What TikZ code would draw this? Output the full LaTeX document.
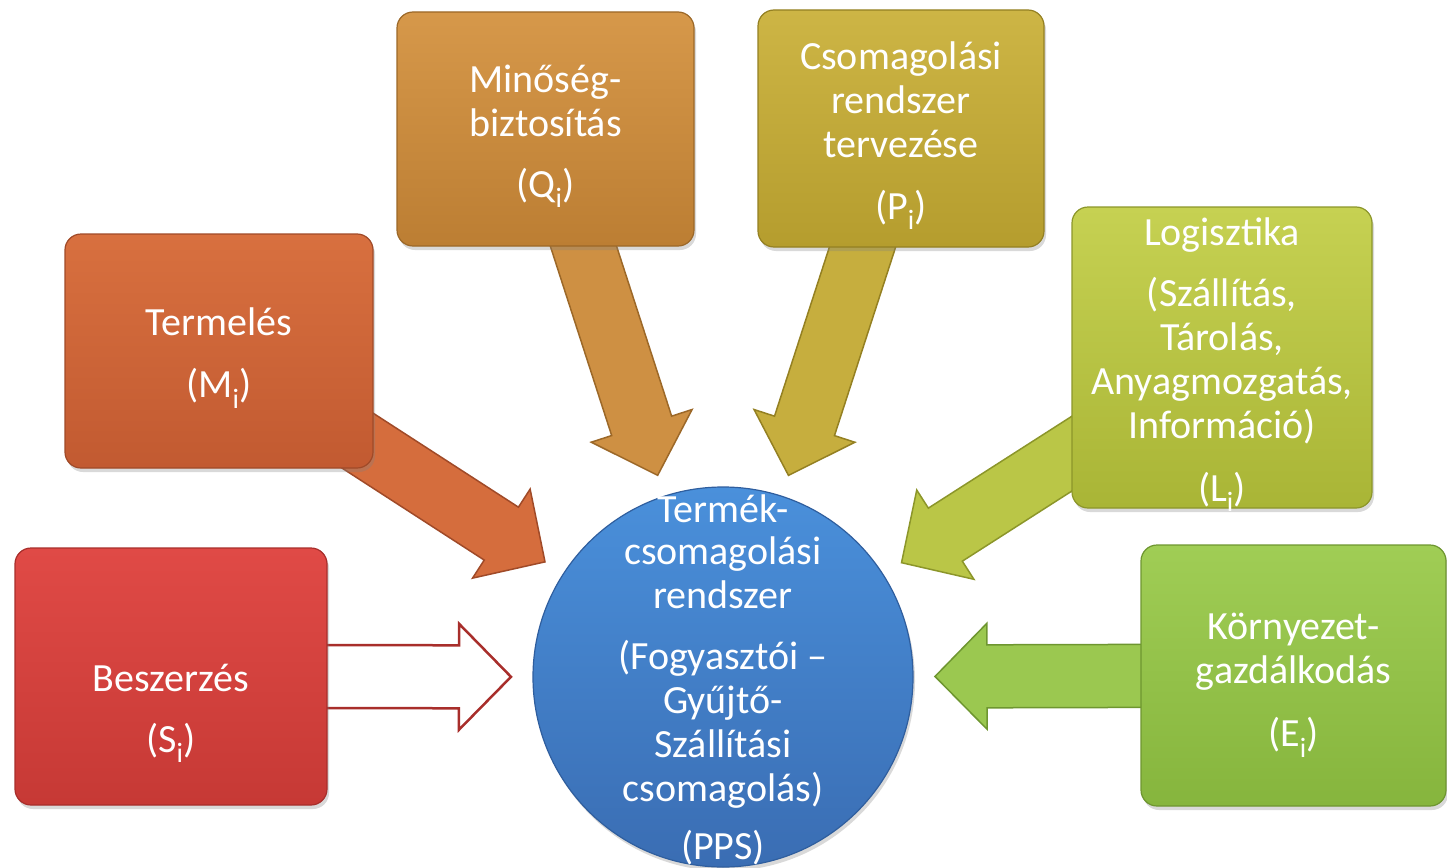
\documentclass[tikz,border=0pt]{standalone}
\usepackage{fontspec}
\setmainfont{Carlito}
\usetikzlibrary{calc,shadows,backgrounds}

\definecolor{besztop}{HTML}{E04A46}\definecolor{beszbot}{HTML}{C63935}\definecolor{beszline}{HTML}{A82E2B}
\definecolor{termtop}{HTML}{D8703F}\definecolor{termbot}{HTML}{C25A31}\definecolor{termline}{HTML}{A04A28}
\definecolor{mintop}{HTML}{D6984A}\definecolor{minbot}{HTML}{BC7E33}\definecolor{minline}{HTML}{9C6828}
\definecolor{csotop}{HTML}{CDB545}\definecolor{csobot}{HTML}{B59D2E}\definecolor{csoline}{HTML}{948022}
\definecolor{logtop}{HTML}{C6D152}\definecolor{logbot}{HTML}{A9B536}\definecolor{logline}{HTML}{8C962A}
\definecolor{kortop}{HTML}{A0CD55}\definecolor{korbot}{HTML}{86B53D}\definecolor{korline}{HTML}{6E9630}
\definecolor{ppstop}{HTML}{4A90DB}\definecolor{ppsbot}{HTML}{3A6DB3}\definecolor{ppsline}{HTML}{2F5E9E}

% block arrow from a box centre towards the hub, tip kept off the circle
\newcommand{\blockarrow}[3][]{%
  \coordinate (#2tip) at ($(#3)!212pt!(#2)$);
  \coordinate (#2neck) at ($(#2tip)!52pt!(#2)$);
  \filldraw[#1] ($(#2)!31.5pt!90:(#2tip)$)
    -- ($(#2neck)!31.5pt!-90:(#2)$)
    -- ($(#2neck)!53pt!-90:(#2)$)
    -- (#2tip)
    -- ($(#2neck)!53pt!90:(#2)$)
    -- ($(#2neck)!31.5pt!90:(#2)$)
    -- ($(#2)!31.5pt!-90:(#2tip)$) -- cycle;}
% taller first line, pushes a box text down a little
\newcommand{\toprule}[1]{\rule{0pt}{#1}}

\begin{document}
\begin{tikzpicture}[x=1pt,y=-1pt,
  box/.style={rectangle, rounded corners=16pt, inner sep=0pt, align=center,
    text=white, line width=1.2pt, font=\fontsize{40}{44}\selectfont,
    drop shadow={opacity=0.3, shadow xshift=2pt, shadow yshift=-4pt}},
  hub/.style={circle, inner sep=0pt, minimum size=380pt, line width=1.2pt,
    draw=ppsline, top color=ppstop, bottom color=ppsbot,
    drop shadow={opacity=0.3, shadow xshift=2pt, shadow yshift=-4pt}},
  hubtext/.style={align=center, text=white, font=\fontsize{40}{44}\selectfont},
  flow/.style={line width=1.5pt, line join=miter}]
\useasboundingbox (0,0) rectangle (1447,867);

% the hub
\node[hub] (pps) at (723,677) {};
\node[hubtext] (ppstext) at (723,680) {Termék-\\[-2pt]csomagolási\\rendszer\\[17pt](Fogyasztói --\\Gyűjtő-\\Szállítási\\csomagolás)\\[14pt](PPS)};

% the six areas
\node[box, draw=beszline, top color=besztop, bottom color=beszbot,
  minimum width=312pt, minimum height=257pt] (besz) at (171,676.5)
  {\toprule{40pt}\\[17pt]Beszerzés\\[17pt](S\textsubscript{i})};
\node[box, draw=termline, top color=termtop, bottom color=termbot,
  minimum width=308pt, minimum height=234pt] (termel) at (219,351)
  {\toprule{42pt}Termelés\\[18pt](M\textsubscript{i})};
\node[box, draw=minline, top color=mintop, bottom color=minbot,
  minimum width=297pt, minimum height=234pt] (minoseg) at (545.5,129)
  {\toprule{42pt}Minőség-\\biztosítás\\[17pt](Q\textsubscript{i})};
\node[box, draw=csoline, top color=csotop, bottom color=csobot,
  minimum width=286pt, minimum height=237pt] (csomag) at (901,128.5)
  {\toprule{42pt}Csomagolási\\rendszer\\tervezése\\[18pt](P\textsubscript{i})};
\node[box, draw=logline, top color=logtop, bottom color=logbot, inner ysep=-10pt,
  minimum width=300pt, minimum height=301pt] (logiszt) at (1222,357.5)
  {\toprule{42pt}Logisztika\\[17pt](Szállítás,\\Tárolás,\\Anyagmozgatás,\\Információ)\\[19pt](L\textsubscript{i})};
\node[box, draw=korline, top color=kortop, bottom color=korbot,
  minimum width=305pt, minimum height=261pt] (kornyez) at (1293.5,675.5)
  {\toprule{46pt}Környezet-\\gazdálkodás\\[19pt](E\textsubscript{i})};

% arrows into the hub
\begin{scope}[on background layer]
  \blockarrow[flow, draw=beszline, fill=white, line width=2.5pt]{besz}{pps}
  \blockarrow[flow, draw=termline, fill=termtop!85!termbot]{termel}{pps}
  \blockarrow[flow, draw=minline, fill=mintop!70!minbot]{minoseg}{pps}
  \blockarrow[flow, draw=csoline, fill=csotop!70!csobot]{csomag}{pps}
  \blockarrow[flow, draw=logline, fill=logtop!60!logbot]{logiszt}{pps}
  \blockarrow[flow, draw=korline, fill=kortop!80!korbot]{kornyez}{pps}
\end{scope}
\end{tikzpicture}
\end{document}
